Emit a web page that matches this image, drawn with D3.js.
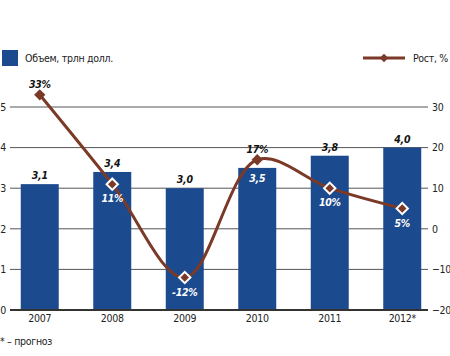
<!DOCTYPE html>
<html><head><meta charset="utf-8">
<script src="https://cdn.jsdelivr.net/npm/d3@7"></script>
<style>
body{margin:0;background:#fff;}
svg{display:block;}
</style></head>
<body>
<svg id="c" width="450" height="356"></svg>
<script>
const years = ["2007","2008","2009","2010","2011","2012*"];
const volume = [3.1, 3.4, 3.0, 3.5, 3.8, 4.0];
const volumeLabels = ["3,1","3,4","3,0","3,5","3,8","4,0"];
const growth = [33, 11, -12, 17, 10, 5];
const growthLabels = ["33%","11%","-12%","17%","10%","5%"];
const leftTicks = [0,1,2,3,4,5];
const rightTicks = [-20,-10,0,10,20,30];
const legendBar = "Объем, трлн долл.";
const legendLine = "Рост, %";
const footnote = "* – прогноз";

const barColor = "#1c4a8e";
const lineColor = "#7a3a27";
const condFont = "'DejaVu Sans Condensed','Liberation Sans Narrow',sans-serif";
const fs = 10.5;

const svg = d3.select("#c");
const x = d3.scaleBand().domain(years).range([3.5, 438.5]).paddingInner(0.476).paddingOuter(0.238);
const yL = d3.scaleLinear().domain([0,5]).range([310, 107]);
const yR = d3.scaleLinear().domain([-20,30]).range([310, 107]);

function styleText(sel){
  sel.attr("font-family", condFont).attr("font-size", fs).attr("fill","#222").attr("letter-spacing","-0.3");
}

// gridlines
svg.append("g").selectAll("line").data(leftTicks.filter(d=>d>0)).join("line")
  .attr("x1", 10).attr("x2", 428)
  .attr("y1", d=>yL(d)).attr("y2", d=>yL(d))
  .attr("stroke", "#555").attr("stroke-width", 1);

// bars
svg.append("g").selectAll("rect").data(volume).join("rect")
  .attr("x", (d,i)=>x(years[i])).attr("width", x.bandwidth())
  .attr("y", d=>yL(d)).attr("height", d=>yL(0)-yL(d))
  .attr("fill", barColor);

// baseline
svg.append("line").attr("x1",10).attr("x2",428).attr("y1",yL(0)).attr("y2",yL(0))
  .attr("stroke","#333").attr("stroke-width",2);

// left axis labels
const axL = d3.axisLeft(yL).tickValues(leftTicks).tickSize(0).tickPadding(0).tickFormat(d3.format("d"));
const gL = svg.append("g").attr("transform","translate(6,0)").call(axL);
gL.select(".domain").remove();
gL.selectAll("text").call(styleText);

const axR = d3.axisRight(yR).tickValues(rightTicks).tickSize(0).tickPadding(0).tickFormat(d3.format("d"));
const gR = svg.append("g").attr("transform","translate(432,0)").call(axR);
gR.select(".domain").remove();
gR.selectAll("text").call(styleText);

// x axis labels
const axX = d3.axisBottom(x).tickSize(0).tickPadding(0);
const gX = svg.append("g").attr("transform","translate(0,315)").call(axX);
gX.select(".domain").remove();
gX.selectAll("text").call(styleText);

// line
const pts = growth.map((g,i)=>[x(years[i])+x.bandwidth()/2, yR(g)]);
svg.append("path").datum(pts)
  .attr("d", d3.line().curve(d3.curveCatmullRom.alpha(0.5)))
  .attr("fill","none").attr("stroke",lineColor).attr("stroke-width",3);

// markers
svg.append("g").selectAll("path").data(pts).join("path")
  .attr("transform", d=>`translate(${d[0]},${d[1]}) rotate(45)`)
  .attr("d", "M-4,-4H4V4H-4Z")
  .attr("fill", lineColor)
  .attr("stroke", (d,i)=> (i===0||i===3) ? "none" : "#fff")
  .attr("stroke-width", 2);

// bar value labels
const barLblInside = [false,false,false,true,false,false];
svg.append("g").selectAll("text").data(volume).join("text")
  .attr("x", (d,i)=>x(years[i])+x.bandwidth()/2)
  .attr("y", (d,i)=> barLblInside[i] ? yL(d)+14 : yL(d)-5)
  .attr("text-anchor","middle")
  .call(styleText)
  .attr("font-weight","bold").attr("font-style","italic")
  .attr("fill", (d,i)=> barLblInside[i] ? "#fff" : "#111")
  .text((d,i)=>volumeLabels[i]);

// growth labels
const growthAbove = [true,false,false,true,false,false];
svg.append("g").selectAll("text").data(growth).join("text")
  .attr("x", (d,i)=>pts[i][0])
  .attr("y", (d,i)=> growthAbove[i] ? pts[i][1]-7 : pts[i][1]+18)
  .attr("text-anchor","middle")
  .call(styleText)
  .attr("font-weight","bold").attr("font-style","italic")
  .attr("fill", (d,i)=> growthAbove[i] ? "#111" : "#fff")
  .text((d,i)=>growthLabels[i]);

// legends
svg.append("rect").attr("x",2).attr("y",50).attr("width",16).attr("height",16).attr("fill",barColor);
svg.append("text").attr("x",25).attr("y",62).call(styleText).text(legendBar);
svg.append("line").attr("x1",363).attr("x2",405).attr("y1",58).attr("y2",58).attr("stroke",lineColor).attr("stroke-width",3);
svg.append("path").attr("transform","translate(384,58) rotate(45)").attr("d","M-3,-3H3V3H-3Z").attr("fill",lineColor);
svg.append("text").attr("x",448).attr("y",62).attr("text-anchor","end").call(styleText).text(legendLine);

svg.append("text").attr("x",0).attr("y",345).call(styleText).text(footnote);
</script>
</body></html>
